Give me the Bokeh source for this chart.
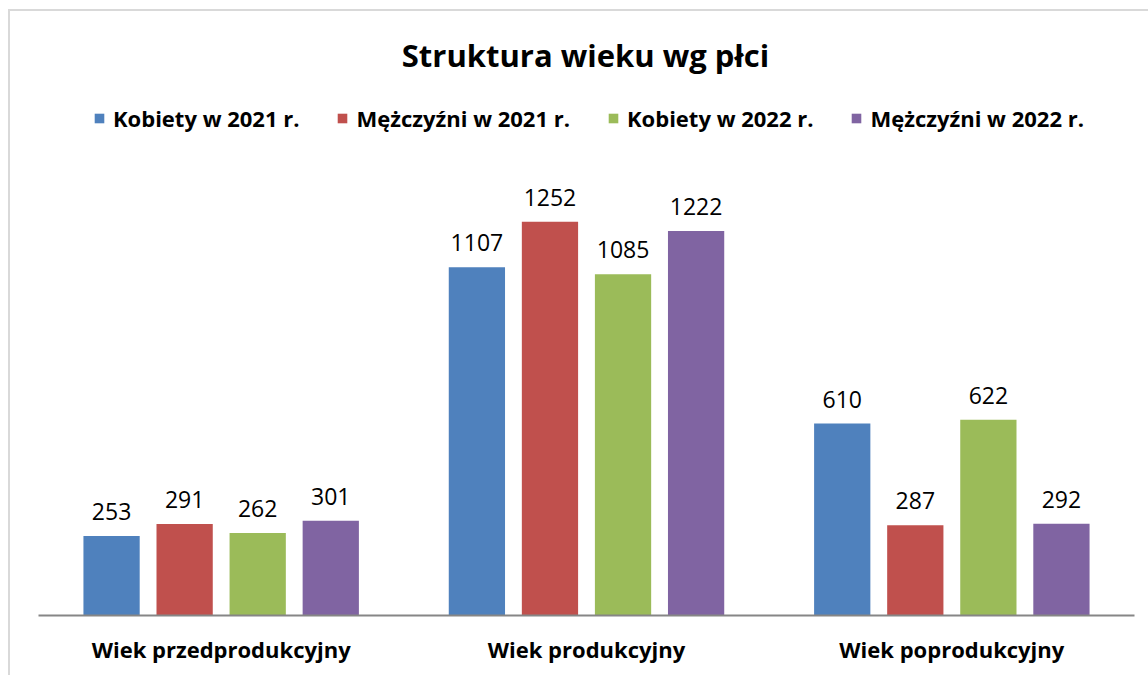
from bokeh.plotting import figure
from bokeh.models import FactorRange, ColumnDataSource, Legend, LegendItem, Label
from bokeh.transform import dodge
from bokeh.core.properties import value
from bokeh.embed import file_html
from bokeh.resources import INLINE

title_text = "Struktura wieku wg płci"
categories = ["Wiek przedprodukcyjny", "Wiek produkcyjny", "Wiek poprodukcyjny"]
series_names = ["Kobiety w 2021 r.", "Mężczyźni w 2021 r.", "Kobiety w 2022 r.", "Mężczyźni w 2022 r."]
kobiety_2021 = [253, 1107, 610]
mezczyzni_2021 = [291, 1252, 287]
kobiety_2022 = [262, 1085, 622]
mezczyzni_2022 = [301, 1222, 292]
colors = ["#4F81BD", "#C0504D", "#9BBB59", "#8064A2"]
offsets = [-0.3, -0.1, 0.1, 0.3]

FONT = "Open Sans"

p = figure(
    x_range=FactorRange(*categories, range_padding=0),
    y_range=(0, 1920),
    width=1140, height=666,
    output_backend="svg", toolbar_location=None, title=None,
    min_border_left=28, min_border_right=18, min_border_top=0, min_border_bottom=64,
    margin=(9, 0, 0, 8),
    styles={"border-left": "2px solid #d9d9d9", "border-top": "2px solid #d9d9d9", "box-sizing": "content-box"},
)
p.outline_line_color = None
p.background_fill_color = "white"
p.border_fill_color = "white"
p.xgrid.grid_line_color = None
p.ygrid.grid_line_color = None
p.yaxis.visible = False

src = ColumnDataSource(dict(
    cat=categories,
    s0=kobiety_2021, s1=mezczyzni_2021, s2=kobiety_2022, s3=mezczyzni_2022,
    t0=[str(v) for v in kobiety_2021], t1=[str(v) for v in mezczyzni_2021],
    t2=[str(v) for v in kobiety_2022], t3=[str(v) for v in mezczyzni_2022],
))

items = []
for i in range(4):
    r = p.vbar(x=dodge("cat", offsets[i], range=p.x_range), top=f"s{i}", width=0.154,
               source=src, fill_color=colors[i], line_color=None)
    p.text(x=dodge("cat", offsets[i], range=p.x_range), y=f"s{i}", text=f"t{i}", source=src,
           text_align="center", text_baseline="bottom", y_offset=-16,
           text_font=value(FONT), text_font_size="23px", text_color="black")
    items.append(LegendItem(label=series_names[i], renderers=[r]))

xa = p.xaxis[0]
xa.axis_line_color = "#868686"
xa.axis_line_width = 2
xa.major_tick_line_color = None
xa.minor_tick_line_color = None
xa.major_label_text_font = FONT
xa.major_label_text_font_style = "bold"
xa.major_label_text_font_size = "22px"
xa.major_label_text_color = "black"
xa.major_label_standoff = 12

legend = Legend(items=items, orientation="horizontal", location=(55, 482),
                label_text_font=FONT, label_text_font_style="bold", label_text_font_size="22px",
                label_text_color="black", glyph_width=12, glyph_height=12, label_standoff=8,
                spacing=37, border_line_color=None, background_fill_alpha=0, margin=0, padding=0)
p.add_layout(legend, "center")

p.add_layout(Label(x=547, y=561, x_units="screen", y_units="screen", text=title_text,
                   text_align="center", text_baseline="middle", text_font=FONT,
                   text_font_style="bold", text_font_size="31px", text_color="black"))

open("out.html", "w").write(file_html(p, INLINE))
